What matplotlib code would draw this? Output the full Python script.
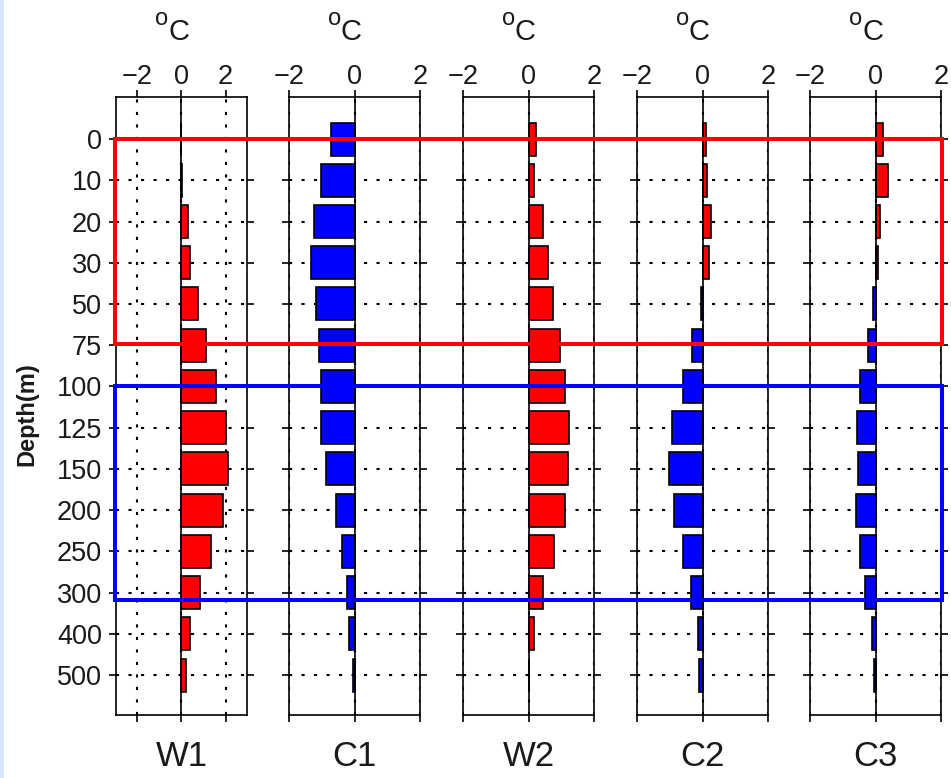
import numpy as np
import matplotlib
matplotlib.use("Agg")
import matplotlib.pyplot as plt
from matplotlib.patches import Rectangle

plt.rcParams["font.family"] = ["Liberation Sans", "DejaVu Sans"]

# depth levels (categorical rows, top to bottom)
depths = ["0", "10", "20", "30", "50", "75", "100", "125", "150",
          "200", "250", "300", "400", "500"]

# anomalies in degC, one list per panel
w1 = [0.0, 0.05, 0.30, 0.38, 0.75, 1.12, 1.57, 2.02, 2.11, 1.87, 1.34, 0.83, 0.38, 0.21]
c1 = [-0.72, -1.03, -1.24, -1.33, -1.18, -1.09, -1.03, -1.03, -0.88, -0.57, -0.38, -0.23, -0.17, -0.06]
w2 = [0.23, 0.18, 0.44, 0.59, 0.74, 0.95, 1.10, 1.25, 1.20, 1.10, 0.79, 0.44, 0.18, 0.03]
c2 = [0.10, 0.15, 0.25, 0.20, -0.05, -0.31, -0.61, -0.92, -1.02, -0.86, -0.61, -0.36, -0.15, -0.10]
c3 = [0.24, 0.37, 0.15, 0.09, -0.09, -0.24, -0.46, -0.55, -0.52, -0.61, -0.46, -0.31, -0.10, -0.04]

panel_names = ["W1", "C1", "W2", "C2", "C3"]
panel_values = [w1, c1, w2, c2, c3]
x_ticks = [-2, 0, 2]

W, H = 951, 778
TXT = "#1a1a1a"


def fx(px):
    return px / W


def fy(py):
    return 1 - py / H


fig = plt.figure(figsize=(W / 100, H / 100), dpi=100)

# light-blue strip of the screenshot frame on the left
fig.add_artist(Rectangle((0, 0), fx(4), 1, transform=fig.transFigure,
                         color="#d6e6f6", lw=0))

lefts = [116, 289, 463, 637, 810]
width_px, top_px, bot_px = 131, 97, 715
dot = (0, (1.5, 4.5))

y = np.arange(len(depths))
for i, (name, vals) in enumerate(zip(panel_names, panel_values)):
    ax = fig.add_axes([fx(lefts[i]), fy(bot_px), width_px / W, (bot_px - top_px) / H])
    colors = ["red" if v > 0 else "blue" for v in vals]
    ax.barh(y, vals, height=0.8, color=colors, edgecolor="black", lw=1.2, zorder=3)
    ax.axvline(0, color="black", lw=1.2, zorder=4)

    ax.set_ylim(13.97, -1.02)
    ax.set_xlim((-2.95, 2.97) if i == 0 else (-2, 2))
    ax.set_xticks(x_ticks)
    ax.set_yticks(y)
    if i == 0:
        ax.set_yticklabels(depths)
    ax.grid(True, ls=dot, color="black", lw=1.5)
    ax.set_axisbelow(True)

    ax.xaxis.tick_top()
    ax.tick_params(axis="x", top=True, bottom=True, labeltop=True, labelbottom=False,
                   direction="out", length=5, width=1.2, labelsize=19.5, pad=0,
                   labelcolor=TXT)
    ax.tick_params(axis="y", left=True, right=True, labelleft=(i == 0), labelright=False,
                   direction="out", length=5, width=1.2, labelsize=19.5, pad=5,
                   labelcolor=TXT)
    for s in ax.spines.values():
        s.set_linewidth(1.2)

    cx = lefts[i] + width_px / 2
    fig.text(fx(cx), fy(757), name, fontsize=25, ha="center", va="center", color=TXT)
    # unit label: raised "o" followed by "C"
    fig.text(fx(lefts[i] + 52), fy(25), "o", fontsize=17, ha="right", va="baseline", color=TXT)
    fig.text(fx(lefts[i] + 52), fy(40), "C", fontsize=21, ha="left", va="baseline", color=TXT)

fig.text(fx(27), fy(414), "Depth(m)", rotation=90, fontsize=17, fontweight="bold",
         ha="center", va="center", color=TXT)

# highlight boxes: upper layer (red) and subsurface layer (blue)
fig.add_artist(Rectangle((fx(115.3), fy(344.3)), (941.7 - 115.3) / W, (344.3 - 139.3) / H,
                         transform=fig.transFigure, fill=False, edgecolor="red",
                         lw=2.9, zorder=10))
fig.add_artist(Rectangle((fx(115.3), fy(600)), (941.7 - 115.3) / W, (600 - 385.7) / H,
                         transform=fig.transFigure, fill=False, edgecolor="blue",
                         lw=2.9, zorder=10))

fig.savefig("out.png", dpi=100)
